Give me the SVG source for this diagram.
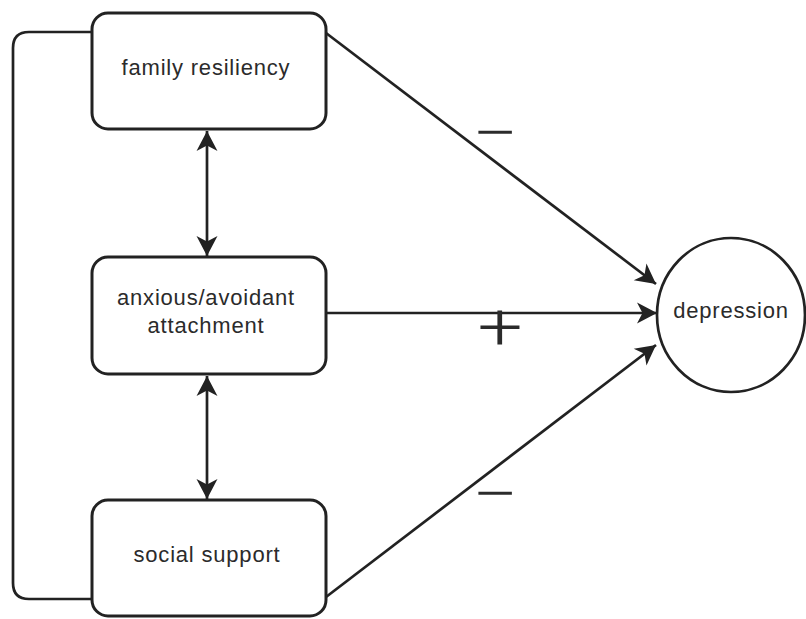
<svg xmlns="http://www.w3.org/2000/svg" width="806" height="619" viewBox="0 0 806 619">
<style>
.box{fill:#fff;stroke:#222;stroke-width:3}
.ln{fill:none;stroke:#222;stroke-width:2.7}
.lbl{font-family:"Liberation Sans",Arial,sans-serif;font-size:22px;letter-spacing:0.8px;fill:#2b2b2b;text-anchor:middle}
.sgn{font-family:"Liberation Sans",Arial,sans-serif;fill:#2b2b2b;text-anchor:middle}
.plus{font-family:Roboto,"Liberation Sans",sans-serif;font-weight:300;fill:#2b2b2b;text-anchor:middle}
</style>
<defs>
<marker id="ah" viewBox="-1 -12 23 24" markerWidth="23" markerHeight="24" markerUnits="userSpaceOnUse" refX="20" refY="0" orient="auto-start-reverse">
<path d="M0,-10.5 L20,0 L0,10.5 L5.5,0 z" fill="#222"/>
</marker>
</defs>
<g id="connectors">
<path id="bracket" class="ln" d="M92,32 H29 Q13,32 13,48 V583 Q13,599 29,599 H92"/>
<line class="ln" x1="207" y1="131" x2="207" y2="256" marker-start="url(#ah)" marker-end="url(#ah)"/>
<line class="ln" x1="207" y1="376" x2="207" y2="499" marker-start="url(#ah)" marker-end="url(#ah)"/>
<line class="ln" x1="326" y1="33" x2="656" y2="284" marker-end="url(#ah)"/>
<line class="ln" x1="326" y1="313" x2="657" y2="313" marker-end="url(#ah)"/>
<line class="ln" x1="326" y1="597" x2="656" y2="345" marker-end="url(#ah)"/>
<text class="sgn" font-size="42" transform="translate(495,146) scale(1.64,1)" x="0" y="0">−</text>
<text class="plus" font-size="64" transform="translate(500,349) scale(1.25,1)" x="0" y="0">+</text>
<text class="sgn" font-size="42" transform="translate(495,507) scale(1.64,1)" x="0" y="0">−</text>
</g>
<g id="family">
<rect class="box" x="92" y="13" width="234" height="116" rx="16"/>
<text class="lbl" x="206" y="75">family resiliency</text>
</g>
<g id="anxious">
<rect class="box" x="92" y="257" width="234" height="117" rx="16"/>
<text class="lbl" x="206" y="305">anxious/avoidant</text>
<text class="lbl" x="206" y="333">attachment</text>
</g>
<g id="social">
<rect class="box" x="92" y="500" width="234" height="116" rx="16"/>
<text class="lbl" x="207" y="562">social support</text>
</g>
<g id="depression">
<ellipse cx="731" cy="315" rx="74" ry="77" fill="#fff" stroke="#222" stroke-width="2.7"/>
<text class="lbl" x="731" y="318">depression</text>
</g>
</svg>
